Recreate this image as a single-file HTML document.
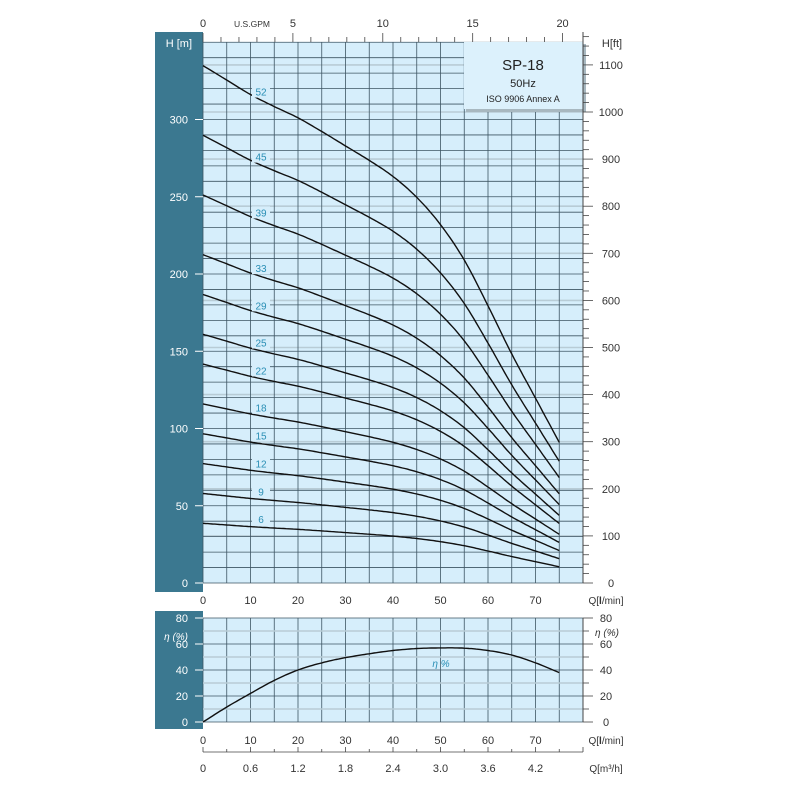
<!DOCTYPE html>
<html><head><meta charset="utf-8"><style>
body{margin:0;background:#fff;}
svg{display:block;font-family:"Liberation Sans",sans-serif;}
</style></head><body>
<svg id="s" width="800" height="800" xmlns="http://www.w3.org/2000/svg"></svg>
<script>
const s=document.getElementById('s');
let h='';
const X0=203,X1=583,px=4.75;
const qx=q=>X0+q*px;
const Y0=583,py=1.545;const hy=v=>Y0-v*py;
const E0=722,ey=v=>E0-v*1.3;
h+=`<rect x="155" y="32" width="48" height="560" fill="#3b7890"/>`;
h+=`<rect x="155" y="611" width="48" height="118" fill="#3b7890"/>`;
h+=`<rect x="${X0}" y="42" width="${X1-X0}" height="${Y0-42}" fill="#d6eefb"/>`;
h+=`<rect x="${X0}" y="618" width="${X1-X0}" height="${E0-618}" fill="#d6eefb"/>`;
for(let f=100;f<=1100;f+=100){const y=Y0-f*0.471;h+=`<line x1="${X0}" x2="${X1}" y1="${y}" y2="${y}" stroke="#b8ccd6" stroke-width="1.6"/>`;}
for(let q=0;q<=80;q+=5)h+=`<line x1="${qx(q)}" x2="${qx(q)}" y1="42" y2="${Y0}" stroke="#3d5563" stroke-width="0.8"/>`;
for(let v=0;v<=350;v+=10){const y=hy(v);if(y<42)continue;h+=`<line x1="${X0}" x2="${X1}" y1="${y}" y2="${y}" stroke="#3d5563" stroke-width="0.8"/>`;}
for(let q=0;q<=80;q+=5)h+=`<line x1="${qx(q)}" x2="${qx(q)}" y1="618" y2="${E0}" stroke="#3d5563" stroke-width="0.8"/>`;
for(let v=0;v<=80;v+=10){const y=ey(v);h+=`<line x1="${X0}" x2="${X1}" y1="${y}" y2="${y}" stroke="${v%20==10?'#b8ccd6':'#3d5563'}" stroke-width="${v%20==10?1.6:0.8}"/>`;}
h+=`<rect x="466" y="44" width="120" height="68" fill="#a8b8c0"/><rect x="464" y="42" width="119" height="67" fill="#dcf1fc"/>`;
h+=`<text x="523" y="70" font-size="15" text-anchor="middle" fill="#222">SP-18</text>`;
h+=`<text x="523" y="87" font-size="11" text-anchor="middle" fill="#222">50Hz</text>`;
h+=`<text x="523" y="102" font-size="9" text-anchor="middle" fill="#222">ISO 9906 Annex A</text>`;
function interp(V,q){const n=V.length;const i=Math.min(Math.floor(q/5),n-2);const t=(q-i*5)/5;
const g=k=>k<0?2*V[0]-V[1]:(k>=n?2*V[n-1]-V[n-2]:V[k]);
const p0=g(i-1),p1=g(i),p2=g(i+1),p3=g(i+2);
return 0.5*((2*p1)+(-p0+p2)*t+(2*p0-5*p1+4*p2-p3)*t*t+(-p0+3*p1-3*p2+p3)*t*t*t);}
const H1=[6.44,6.26,6.08,5.93,5.79,5.62,5.44,5.26,5.06,4.8,4.46,4.02,3.45,2.85,2.3,1.75];
const st=[52,45,39,33,29,25,22,18,15,12,9,6];
for(const n of st){let d='';for(let q=0;q<=75;q+=0.5){const y=hy(n*interp(H1,q));d+=(q?'L':'M')+qx(q).toFixed(1)+','+y.toFixed(1);}
h+=`<path d="${d}" fill="none" stroke="#111" stroke-width="1.4"/>`;
const ly=hy(n*interp(H1,12))-7;
h+=`<rect x="252" y="${ly-7}" width="18" height="12" fill="#d6eefb"/><text x="261" y="${ly+3}" font-size="10" fill="#2a8fb5" text-anchor="middle">${n}</text>`;}
const EV=[0,11.5,22,32,40,45.5,49.5,52.5,55,56.5,57,56.8,55,51.5,45.5,38];
{let d='';for(let q=0;q<=75;q+=0.5){d+=(q?'L':'M')+qx(q).toFixed(1)+','+ey(interp(EV,q)).toFixed(1);}h+=`<path d="${d}" fill="none" stroke="#111" stroke-width="1.4"/>`;}
h+=`<text x="441" y="667" font-size="10" fill="#2a8fb5" font-style="italic" text-anchor="middle">η %</text>`;
h+=`<text x="192" y="47" font-size="11" fill="#fff" text-anchor="end">H [m]</text>`;
for(let v=0;v<=300;v+=50){const y=hy(v);h+=`<text x="188" y="${y+4}" font-size="11" fill="#fff" text-anchor="end">${v}</text><line x1="195" x2="203" y1="${y}" y2="${y}" stroke="#fff"/>`;}
for(let v=0;v<=80;v+=20){const y=ey(v);h+=`<text x="188" y="${y+4}" font-size="11" fill="#fff" text-anchor="end">${v}</text><line x1="195" x2="203" y1="${y}" y2="${y}" stroke="#fff"/>`;}
h+=`<text x="188" y="640" font-size="10" fill="#fff" text-anchor="end" font-style="italic">η (%)</text>`;
h+=`<line x1="${X1}" x2="${X1}" y1="32" y2="${Y0}" stroke="#444"/>`;
for(let f=0;f<=1160;f+=20){const y=Y0-f*0.471;h+=`<line x1="${X1}" x2="${X1+(f%100==0?10:6)}" y1="${y}" y2="${y}" stroke="#444" stroke-width="0.8"/>`;
if(f%100==0)h+=`<text x="611" y="${y+4}" font-size="11" fill="#333" text-anchor="middle">${f}</text>`;}
h+=`<text x="612" y="47" font-size="11" fill="#333" text-anchor="middle">H[ft]</text>`;
h+=`<line x1="${X1}" x2="${X1}" y1="618" y2="${E0}" stroke="#444"/>`;
for(let v=0;v<=80;v+=10){const y=ey(v);h+=`<line x1="${X1}" x2="${X1+(v%20==0?10:6)}" y1="${y}" y2="${y}" stroke="#444" stroke-width="0.8"/>`;
if(v%20==0)h+=`<text x="606" y="${y+4}" font-size="11" fill="#333" text-anchor="middle">${v}</text>`;}
h+=`<text x="607" y="636" font-size="10" fill="#333" text-anchor="middle" font-style="italic">η (%)</text>`;
for(let g=0;g<=20.5;g+=1){const x=X0+g*3.785*px;if(x>X1+3)break;h+=`<line x1="${x}" x2="${x}" y1="${g%5==0?33:37}" y2="42" stroke="#444" stroke-width="0.8"/>`;
if(g%5==0)h+=`<text x="${x}" y="27" font-size="11" fill="#333" text-anchor="middle">${g}</text>`;}
h+=`<text x="252" y="27" font-size="8.5" fill="#333" text-anchor="middle">U.S.GPM</text>`;
for(let q=0;q<=70;q+=10){h+=`<text x="${qx(q)}" y="604" font-size="11" fill="#333" text-anchor="middle">${q}</text><text x="${qx(q)}" y="744" font-size="11" fill="#333" text-anchor="middle">${q}</text>`;}
h+=`<text x="606" y="604" font-size="10" fill="#333" text-anchor="middle">Q[<tspan font-weight="bold">l</tspan>/min]</text>`;
h+=`<text x="606" y="744" font-size="10" fill="#333" text-anchor="middle">Q[<tspan font-weight="bold">l</tspan>/min]</text>`;
h+=`<line x1="${X0}" x2="${X1}" y1="752" y2="752" stroke="#444" stroke-width="0.8"/>`;
const m3=['0','0.6','1.2','1.8','2.4','3.0','3.6','4.2'];
for(let q=0;q<=80;q+=5){const x=qx(q);h+=`<line x1="${x}" x2="${x}" y1="${q%10==0?747:749}" y2="752" stroke="#444" stroke-width="0.8"/>`;}
for(let i=0;i<8;i++)h+=`<text x="${qx(i*10)}" y="772" font-size="11" fill="#333" text-anchor="middle">${m3[i]}</text>`;
h+=`<text x="606" y="772" font-size="10" fill="#333" text-anchor="middle">Q[m³/h]</text>`;
s.innerHTML=h;
</script>
</body></html>
